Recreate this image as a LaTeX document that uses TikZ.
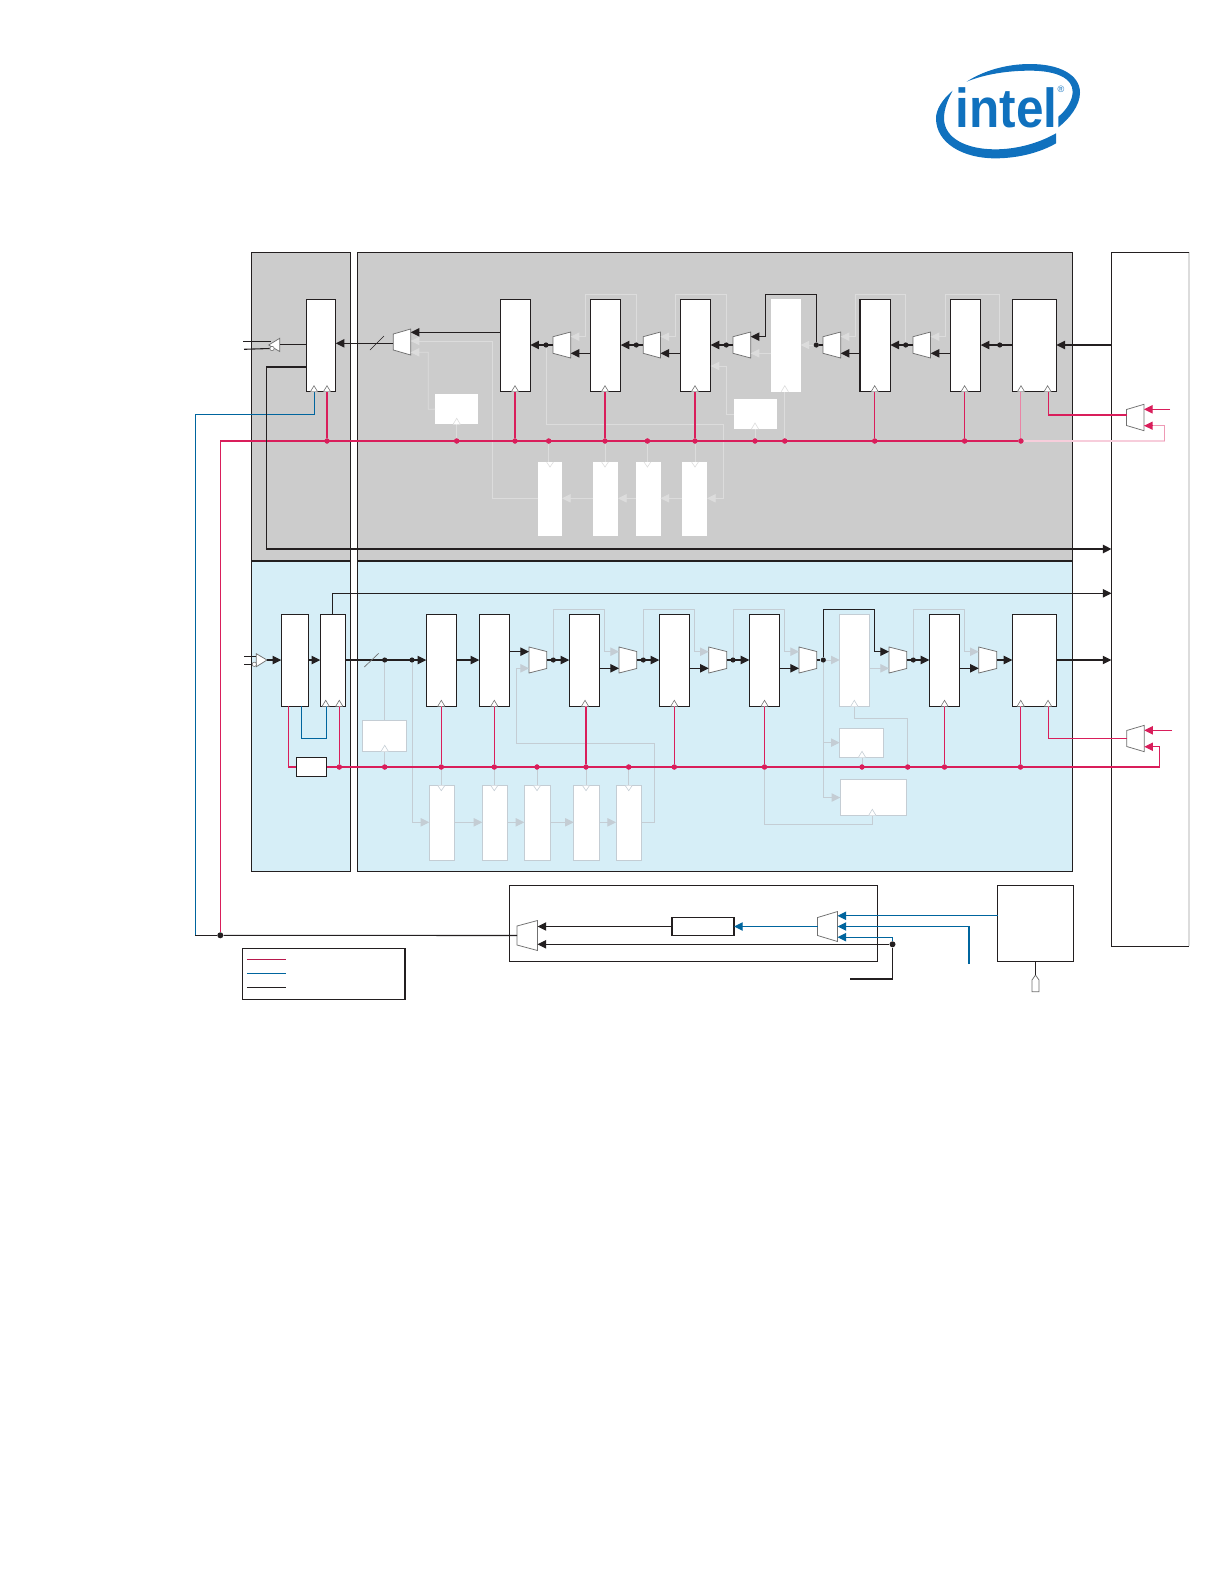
\documentclass[tikz,border=0pt]{standalone}
\usepackage{graphicx}
\usepackage{fontspec}
\setmainfont{Liberation Sans}
\usetikzlibrary{arrows.meta}
\definecolor{cblk}{HTML}{231F20}
\definecolor{cpnk}{HTML}{D91E5B}
\definecolor{cblu}{HTML}{00659E}
\definecolor{cgrey}{HTML}{CCCCCC}
\definecolor{cbluep}{HTML}{D6EEF7}
\definecolor{cfg}{HTML}{DCDCDC}
\definecolor{cfb}{HTML}{C4CDD4}
\definecolor{clogo}{HTML}{1071BE}
\definecolor{cmux}{HTML}{707070}
\tikzset{
  blk/.style={draw=cblk,line width=0.65pt},
  thk/.style={draw=cblk,line width=1.15pt},
  pnk/.style={draw=cpnk,line width=0.65pt},
  blu/.style={draw=cblu,line width=0.7pt},
  fgl/.style={draw=cfg,line width=0.5pt},
  fbl/.style={draw=cfb,line width=0.55pt},
  tip/.style={-{Triangle[length=5.2pt,width=5pt]}},
  panelg/.style={draw=cblk,fill=cgrey,line width=0.7pt,inner sep=0,outer sep=0},
  panelb/.style={draw=cblk,fill=cbluep,line width=0.7pt,inner sep=0,outer sep=0},
  regbox/.style={draw=cblk,fill=white,line width=0.7pt,inner sep=0,outer sep=0},
  wbox/.style={fill=white,inner sep=0,outer sep=0},
  wboxb/.style={draw=cfb,fill=white,line width=0.6pt,inner sep=0,outer sep=0},
  pdot/.style={circle,fill=cpnk,inner sep=0,minimum size=3.1pt},
  bdot/.style={circle,fill=cblk,inner sep=0,minimum size=3.1pt},
  muxs/.style={draw=cmux,fill=white,line width=0.45pt},
  clks/.style={draw=cmux,fill=white,line width=0.35pt},
  fclk/.style={draw=cfb,fill=white,line width=0.35pt},
}
% #1 style #2 name #3 x1 #4 y1 #5 x2 #6 y2
\newcommand\mybox[6]{\node[#1,minimum width={0.6pt*(#5-#3)},minimum height={0.6pt*(#6-#4)}] (#2) at ({(#3+#5)/2},{(#4+#6)/2}) {};}
% muxes: name x1 x2 yc narrow wide inputoffset
\newcommand\muxL[7]{\draw[muxs] (#2,{#4-#5}) -- (#3,{#4-#6}) -- (#3,{#4+#6}) -- (#2,{#4+#5}) -- cycle;
 \coordinate (#1-a) at (#3,{#4-#7}); \coordinate (#1-b) at (#3,{#4+#7}); \coordinate (#1-m) at (#3,#4); \coordinate (#1-o) at (#2,#4);}
\newcommand\muxR[7]{\draw[muxs] (#2,{#4-#6}) -- (#3,{#4-#5}) -- (#3,{#4+#5}) -- (#2,{#4+#6}) -- cycle;
 \coordinate (#1-a) at (#2,{#4-#7}); \coordinate (#1-b) at (#2,{#4+#7}); \coordinate (#1-o) at (#3,#4);}
% clock triangle: x y style
\newcommand\clkup[3]{\draw[#3] ({#1-3.6},#2) -- (#1,{#2-6}) -- ({#1+3.6},#2);}
\newcommand\clkdn[3]{\draw[#3] ({#1-3.4},#2) -- (#1,{#2+5}) -- ({#1+3.4},#2);}
\begin{document}
\begin{tikzpicture}[x=0.6pt,y=-0.6pt]
\useasboundingbox (0,0) rectangle (1224,1584);
% ---- logo
\begin{scope}[shift={(920,50)},x=0.2pt,y=-0.2pt]
\fill[clogo] (98,122) .. controls (65,150) and (48,180) .. (48,205) .. controls (48,280) and (130,325) .. (225,325) .. controls (300,325) and (365,305) .. (408,280) -- (408,250) .. controls (355,280) and (290,298) .. (225,298) .. controls (140,298) and (72,265) .. (72,205) .. controls (72,175) and (85,145) .. (98,122) -- cycle;
\fill[clogo] (140,95) .. controls (190,62) and (260,42) .. (330,42) .. controls (420,42) and (480,75) .. (480,128) .. controls (480,165) and (450,205) .. (415,232) -- (415,200) .. controls (440,180) and (458,150) .. (458,125) .. controls (458,85) and (410,62) .. (330,62) .. controls (265,62) and (195,72) .. (140,95) -- cycle;
\node[anchor=base,text=clogo,inner sep=0,font=\bfseries\fontsize{33}{33}\selectfont] (logotext) at (260,232) {\scalebox{0.9}[1]{intel}};
\node[text=clogo,inner sep=0,font=\fontsize{5.5}{6}\selectfont] (logomark) at (423,118) {®};
\end{scope}
% ---- helper rows
\coordinate (yt) at (0,345);
\coordinate (yu) at (0,353.3);
\coordinate (ya) at (0,336.7);
\coordinate (yl) at (0,294.3);
\coordinate (yc) at (0,498.3);
\coordinate (ym) at (0,441);
\coordinate (yb) at (0,660);
\coordinate (yv) at (0,668.3);
\coordinate (yw) at (0,651.7);
\coordinate (yh) at (0,609.7);
\coordinate (yd) at (0,822.3);
\coordinate (yn) at (0,767);
% ---- panels
\mybox{panelg}{pa}{251.3}{252.3}{350.5}{561}
\mybox{panelg}{pb}{357.3}{252.3}{1072.7}{561}
\mybox{panelb}{pc}{251.3}{561}{350.5}{871.3}
\mybox{panelb}{pd}{357.3}{561}{1072.7}{871.3}
\mybox{wbox}{rp}{1111.5}{252.3}{1189}{946.4}
\draw[cfg,line width=0.7pt] (rp.north east) -- (rp.south east);
\draw[blk] (rp.north east) -- (rp.north west) -- (rp.south west) -- (rp.south east);
\mybox{regbox}{bb}{509.3}{885.3}{877.5}{961.3}
\mybox{regbox}{bc}{997.5}{885.3}{1073.5}{961.3}
% ---- pink dots, top
\foreach \n/\x in {a/327,b/456.7,c/515,d/548.7,e/605,f/647.4,g/695,h/755,i/784.8,j/874.7,k/964.6,l/1020.9}
  \node[pdot] (tp\n) at (\x,441) {};
% ---- pink dots, bottom
\foreach \n/\x in {a/339.3,b/384.7,c/441.3,d/494.3,e/537,f/586,g/628.7,h/674.3,i/764.5,j/862,k/907.7,l/944.5,m/1020.5}
  \node[pdot] (bp\n) at (\x,767) {};
% ---- top faint boxes
\mybox{wbox}{wt1}{435}{394}{477.7}{424.3}
\mybox{wbox}{wt2}{733.9}{399}{777}{429}
\mybox{wbox}{fa}{538}{462}{562}{536}
\mybox{wbox}{fbx}{593}{462}{618}{536}
\mybox{wbox}{fc}{635.6}{462}{660.5}{536}
\mybox{wbox}{fd}{682}{462}{707}{536}
\mybox{wbox}{tf}{771}{299.3}{800.5}{391.7}
% ---- bottom faint boxes
\mybox{wboxb}{wb1}{362.3}{720.3}{406.3}{751.3}
\mybox{wboxb}{wb2}{839.7}{728}{883.7}{757.3}
\mybox{wboxb}{wb3}{840.3}{779.7}{906.7}{815.3}
\mybox{wboxb}{bf}{839.7}{614.3}{869.7}{706.3}
\mybox{wboxb}{ga}{429.3}{785.7}{454.3}{860.3}
\mybox{wboxb}{gb}{482.3}{785.7}{507.3}{860.3}
\mybox{wboxb}{gc}{524.3}{785.7}{550.3}{860.3}
\mybox{wboxb}{gd}{573.7}{785.7}{599.7}{860.3}
\mybox{wboxb}{ge}{616}{785.7}{641.3}{860.3}
% ---- registers, top
\foreach \n/\a/\b in {t0/306.3/335.7,t1/500.3/530.3,t2/590.3/620.7,t3/680.3/710.6,t4/860/890.4,t5/950.5/980.7,t6/1012.4/1056.4}
  {\mybox{regbox}{\n}{\a}{299.3}{\b}{391.7}}
% ---- registers, bottom
\foreach \n/\a/\b in {b0/281.3/308.7,b1/320.3/345.7,b2/426.3/456.7,b3/479.3/509.7,b4/569.3/599.7,b5/659.3/689.7,b6/749.3/779.7,b7/929.3/959.7,b8/1012.3/1056.7}
  {\mybox{regbox}{\n}{\a}{614.3}{\b}{706.3}}
\mybox{regbox}{pll}{296.3}{757.3}{326.7}{776.7}
\mybox{regbox}{dl}{672}{917.3}{734}{935.7}
\mybox{regbox}{lg}{242.7}{948.3}{405}{999.3}
% ---- muxes
\muxL{m0}{393.3}{410.7}{342}{8}{13}{8.3}
\muxL{m1}{553}{570.7}{345}{8.3}{13}{8.3}
\muxL{m2}{643.2}{660.5}{345}{8.3}{13}{8.3}
\muxL{m3}{733}{750.7}{345}{8.3}{13}{8.3}
\muxL{m4}{823}{840.7}{345}{8.3}{13}{8.3}
\muxL{m5}{913}{930.6}{345}{8.3}{13}{8.3}
\muxR{n1}{529}{546.7}{660}{8.5}{13}{8.3}
\muxR{n2}{619}{636.7}{660}{8.5}{13}{8.3}
\muxR{n3}{708.7}{726.7}{660}{8.5}{13}{8.3}
\muxR{n4}{799}{816.7}{660}{8.5}{13}{8.3}
\muxR{n5}{889}{906.7}{660}{8.5}{13}{8.3}
\muxR{n6}{978.7}{996.7}{660}{8.5}{13}{8.3}
\muxL{rm}{1126.5}{1144}{417.5}{8}{13.2}{8.2}
\muxL{rn}{1126.7}{1144.3}{738.5}{8}{13.2}{8.2}
\muxL{ma}{517}{537.5}{935.5}{9.5}{15}{9}
\muxL{mb}{817.6}{837.5}{926.5}{9}{15}{10.7}
% ---- black dots
\foreach \n/\x in {d0/546,d1/636.3,d2/726.3,d3/816.3,d4/905.7,d5/999.8}
  \node[bdot] (\n) at (\x,345) {};
\foreach \n/\x in {e1/384.7,e2/412,e3/553.3,e4/643.3,e5/733,e6/823.3,e7/913.3}
  \node[bdot] (\n) at (\x,660) {};
\node[bdot,minimum size=3.6pt] (jd) at (220.3,935.3) {};
\node[bdot,minimum size=3.6pt] (jb) at (892.5,944.3) {};
% ---- faint connectors, top
\draw[fgl,tip] (d1) -- (d1 |- yl) -- (585.7,294.3) -- (585.7,336.7) -- (m1-a);
\draw[fgl,tip] (d2) -- (d2 |- yl) -- (675.4,294.3) -- (675.4,336.7) -- (m2-a);
\draw[fgl,tip] (d4) -- (d4 |- yl) -- (855,294.3) -- (855,336.7) -- (m4-a);
\draw[fgl,tip] (d5) -- (d5 |- yl) -- (945,294.3) -- (945,336.7) -- (m5-a);
\draw[fgl,tip] (tf.west |- yu) -- (m3-b);
\draw[fgl,tip] (d3) -- (tf.east |- yt);
\draw[fgl,tip] (wt2.west) -- (726.3,414) -- (726.3,366) -- (t3.east |- 0,366);
\draw[fgl,tip] (wt1.west) -- (428.3,409.2) -- (428.3,352.3) -- (m0-b |- 0,352.3);
\draw[fgl,tip] (fa.west |- yc) -- (492.3,498.3) -- (492.3,341) -- (m0-m |- 0,341);
\draw[fgl,tip] (d0) -- (d0 |- 0,424.3) -- (723.6,424.3) -- (723.6,498.3) -- (fd.east |- yc);
\draw[fgl,tip] (fd.west |- yc) -- (fc.east |- yc);
\draw[fgl,tip] (fc.west |- yc) -- (fbx.east |- yc);
\draw[fgl,tip] (fbx.west |- yc) -- (fa.east |- yc);
\draw[fgl] (tpb) -- (tpb |- wt1.south);
\draw[fgl] (tph) -- (tph |- wt2.south);
\draw[fgl] (tpi) -- (tpi |- tf.south);
\draw[fgl] (tpd) -- (tpd |- fa.north);
\draw[fgl] (tpe) -- (tpe |- fbx.north);
\draw[fgl] (tpf) -- (tpf |- fc.north);
\draw[fgl] (tpg) -- (tpg |- fd.north);
\clkup{456.7}{424.3}{draw=cfg,fill=white,line width=0.35pt}
\clkup{755}{429}{draw=cfg,fill=white,line width=0.35pt}
\clkup{784.8}{391.7}{draw=cfg,fill=white,line width=0.35pt}
\clkdn{550}{462}{draw=cfg,fill=white,line width=0.35pt}
\clkdn{605}{462}{draw=cfg,fill=white,line width=0.35pt}
\clkdn{647.4}{462}{draw=cfg,fill=white,line width=0.35pt}
\clkdn{695}{462}{draw=cfg,fill=white,line width=0.35pt}
% ---- faint connectors, bottom
\draw[fbl,tip] (e3) -- (e3 |- yh) -- (604.3,609.7) -- (604.3,651.7) -- (n2-a);
\draw[fbl,tip] (e4) -- (e4 |- yh) -- (694.3,609.7) -- (694.3,651.7) -- (n3-a);
\draw[fbl,tip] (e5) -- (e5 |- yh) -- (784.3,609.7) -- (784.3,651.7) -- (n4-a);
\draw[fbl,tip] (e7) -- (e7 |- yh) -- (964.3,609.7) -- (964.3,651.7) -- (n6-a);
\draw[fbl,tip] (ge.east |- yd) -- (654.3,822.3) -- (654.3,743) -- (516.7,743) -- (516.7,668.3) -- (n1-b);
\draw[fbl,tip] (e6) -- (bf.west |- yb);
\draw[fbl,tip] (bf.east |- yv) -- (n5-b);
\draw[fbl] (e1) -- (e1 |- wb1.north);
\draw[fbl] (bpb) -- (bpb |- wb1.south);
\draw[fbl,tip] (e2) -- (e2 |- yd) -- (ga.west |- yd);
\draw[fbl,tip] (ga.east |- yd) -- (gb.west |- yd);
\draw[fbl,tip] (gb.east |- yd) -- (gc.west |- yd);
\draw[fbl,tip] (gc.east |- yd) -- (gd.west |- yd);
\draw[fbl,tip] (gd.east |- yd) -- (ge.west |- yd);
\draw[fbl,tip] (e6) -- (e6 |- wb3.west) -- (wb3.west);
\draw[fbl,tip] (e6 |- wb2.west) -- (wb2.west);
\draw[fbl] (bpj) -- (bpj |- wb2.south);
\draw[fbl] (872.3,815.3) -- (872.3,824.3) -- (bpi |- 0,824.3) -- (bpi);
\draw[fbl] (854.3,706.3) -- (854.3,718.3) -- (bpk |- 0,718.3) -- (bpk);
\draw[fbl] (bpc) -- (bpc |- ga.north);
\draw[fbl] (bpd) -- (bpd |- gb.north);
\draw[fbl] (bpe) -- (bpe |- gc.north);
\draw[fbl] (bpf) -- (bpf |- gd.north);
\draw[fbl] (bpg) -- (bpg |- ge.north);
\clkup{384.7}{751.3}{fclk}
\clkup{862}{757.3}{fclk}
\clkup{872.3}{815.3}{fclk}
\clkup{854.3}{706.3}{fclk}
\clkdn{441.3}{785.7}{fclk}
\clkdn{494.3}{785.7}{fclk}
\clkdn{537}{785.7}{fclk}
\clkdn{586}{785.7}{fclk}
\clkdn{628.7}{785.7}{fclk}
% ---- pink, top
\draw[draw=cpnk!22!white,line width=0.7pt] (tpl) -- (1164.5,441);
\draw[draw=cpnk!45!white,line width=0.6pt] (1164.5,441) -- (1164.5,425.7);
\draw[draw=cpnk!45!white,line width=0.6pt] (1164.5,425.7) -- (rm-b);
\draw[draw=cpnk,line width=0pt,tip] (1150,425.7) -- (rm-b);
\draw[pnk] (220.3,441) -- (tpl);
\draw[pnk] (jd) -- (220.3,441);
\draw[pnk] (tpa) -- (tpa |- t0.south);
\draw[pnk] (tpc) -- (tpc |- t1.south);
\draw[pnk] (tpe) -- (tpe |- t2.south);
\draw[pnk] (tpg) -- (tpg |- t3.south);
\draw[pnk] (tpj) -- (tpj |- t4.south);
\draw[pnk] (tpk) -- (tpk |- t5.south);
\draw[draw=cpnk!55!white,line width=0.7pt] (tpl) -- (tpl |- t6.south);
\draw[pnk] (1048.4,391.7) -- (1048.4,415) -- (rm-o |- 0,415);
\coordinate (ri) at (1170,409.3);
\draw[pnk,tip] (ri) -- (rm-a);
\foreach \n/\x in {a/327,b/456.7,c/515,d/548.7,e/605,f/647.4,g/695,h/755,i/784.8,j/874.7,k/964.6,l/1020.9}
  \node[pdot] at (tp\n) {};
% ---- pink, bottom
\draw[pnk] (288.3,706.3) -- (288.3,767) -- (pll.west);
\draw[pnk,tip] (pll.east) -- (1159.3,767) -- (1159.3,746.7) -- (rn-b);
\draw[pnk] (bpa) -- (bpa |- b1.south);
\draw[pnk] (bpc) -- (bpc |- b2.south);
\draw[pnk] (bpd) -- (bpd |- b3.south);
\draw[pnk] (bpf) -- (bpf |- b4.south);
\draw[pnk] (bph) -- (bph |- b5.south);
\draw[pnk] (bpi) -- (bpi |- b6.south);
\draw[pnk] (bpl) -- (bpl |- b7.south);
\draw[pnk] (bpm) -- (bpm |- b8.south);
\draw[pnk] (1048.3,706.3) -- (1048.3,738.5) -- (rn-o);
\coordinate (rj) at (1172,730.3);
\draw[pnk,tip] (rj) -- (rn-a);
\foreach \n/\x in {a/339.3,b/384.7,c/441.3,d/494.3,e/537,f/586,g/628.7,h/674.3,i/764.5,j/862,k/907.7,l/944.5,m/1020.5}
  \node[pdot] at (bp\n) {};
% ---- blue
\draw[blu] (314.7,391.7) -- (314.7,414.3) -- (195.3,414.3) -- (195.3,935.3);
\draw[blu] (301.3,706.3) -- (301.3,738.3) -- (326.7,738.3) -- (326.7,706.3);
\draw[blu,tip] (bc.west |- mb-a) -- (mb-a);
\draw[blu,tip] (969,964) -- (969,926.5) -- (mb-m);
\draw[blu,tip] (jb) -- (jb |- mb-b) -- (mb-b);
\draw[blu,tip] (mb-o) -- (dl.east);
% ---- clocks (on registers)
\foreach \x/\y in {314/391.7,327/391.7,515/391.7,605/391.7,695/391.7,874.7/391.7,964.6/391.7,1021/391.7,1047.6/391.7,325.7/706.3,339.3/706.3,441.3/706.3,494.3/706.3,585/706.3,674.3/706.3,764.5/706.3,944.5/706.3,1020.7/706.3,1048/706.3}
  {\clkup{\x}{\y}{clks}}
% ---- black, top
\draw[blk,tip] (rp.west |- yt) -- (t6.east |- yt);
\draw[blk,tip] (t6.west |- yt) -- (t5.east |- yt);
\draw[blk,tip] (t5.west |- yu) -- (m5-b);
\draw[blk,tip] (m5-o) -- (t4.east |- yt);
\draw[blk,tip] (t4.west |- yu) -- (m4-b);
\draw[blk] (m4-o) -- (d3);
\draw[blk,tip] (d3) -- (d3 |- yl) -- (765.3,294.3) -- (765.3,336.7) -- (m3-a);
\draw[blk,tip] (m3-o) -- (t3.east |- yt);
\draw[blk,tip] (t3.west |- yu) -- (m2-b);
\draw[blk,tip] (m2-o) -- (t2.east |- yt);
\draw[blk,tip] (t2.west |- yu) -- (m1-b);
\draw[blk,tip] (m1-o) -- (t1.east |- yt);
\draw[blk,tip] (t1.west |- 0,332.3) -- (m0-a |- 0,332.3);
\draw[blk,tip] (m0-o |- 0,343.3) -- (t0.east |- 0,343.3);
\coordinate (sa) at (370,350); \coordinate (sb) at (384,336);
\draw[draw=cblk,line width=0.4pt] (sa) -- (sb);
\draw[blk] (t0.west |- 0,367) -- (266.3,367) -- (266.3,549);
\draw[thk,tip] (265.9,549) -- (rp.west |- 0,549);
% output buffer
\draw[muxs,line width=0.45pt] (268.7,345) -- (279.7,338.3) -- (279.7,351.5) -- cycle;
\node[circle,draw=cmux,fill=white,inner sep=0,minimum size=2.6pt,line width=0.35pt] (obb) at (272,348.5) {};
\draw[blk] (t0.west |- 0,344.3) -- (279.7,344.3);
\coordinate (oa) at (243,341.3); \coordinate (ob) at (244,349.3);
\draw[blk] (oa) -- (270.5,341.3);
\draw[blk] (ob) -- (obb.west);
% ---- black, bottom
\draw[muxs] (256.3,653.7) -- (267,660) -- (256.3,666.7) -- cycle;
\node[circle,draw=cmux,fill=white,inner sep=0,minimum size=2.6pt,line width=0.35pt] (ibb) at (254.3,664.3) {};
\coordinate (ia) at (244,656.3); \coordinate (ib) at (244,664.3);
\draw[blk] (ia) -- (256.3,656.3);
\draw[blk] (ib) -- (ibb.west);
\draw[blk,tip] (267,660) -- (b0.west |- yb);
\draw[blk,tip] (b0.east |- yb) -- (b1.west |- yb);
\draw[blk,tip] (b1.east |- yb) -- (b2.west |- yb);
\coordinate (sc) at (364.3,667); \coordinate (sd) at (378.7,653.3);
\draw[draw=cmux,line width=0.4pt] (sc) -- (sd);
\draw[blk,tip] (b2.east |- yb) -- (b3.west |- yb);
\draw[blk,tip] (b3.east |- yw) -- (n1-a);
\draw[blk,tip] (n1-o) -- (b4.west |- yb);
\draw[blk,tip] (b4.east |- yv) -- (n2-b);
\draw[blk,tip] (n2-o) -- (b5.west |- yb);
\draw[blk,tip] (b5.east |- yv) -- (n3-b);
\draw[blk,tip] (n3-o) -- (b6.west |- yb);
\draw[blk,tip] (b6.east |- yv) -- (n4-b);
\draw[blk] (n4-o) -- (e6);
\draw[blk,tip] (e6) -- (e6 |- yh) -- (874.3,609.7) -- (874.3,651.7) -- (n5-a);
\draw[blk,tip] (n5-o) -- (b7.west |- yb);
\draw[blk,tip] (b7.east |- yv) -- (n6-b);
\draw[blk,tip] (n6-o) -- (b8.west |- yb);
\draw[blk,tip] (b8.east |- yb) -- (rp.west |- yb);
\draw[blk,tip] (332.3,614.3) -- (332.3,593.3) -- (rp.west |- 0,593.3);
% ---- black, lower section
\draw[blk] (ma-o) -- (jd);
\draw[blk] (jd) -- (195.3,935.3);
\draw[blk,tip] (dl.west) -- (ma-a);
\draw[blk,tip] (jb) -- (ma-b |- jb);
\coordinate (je) at (850,979);
\draw[blk] (jb) -- (jb |- je) -- (je);
\draw[draw=cmux,fill=white,line width=0.45pt] (1032,991.7) -- (1032,980) -- (1035.5,975) -- (1039,980) -- (1039,991.7) -- cycle;
\draw[blk] (bc.south -| 1035.5,0) -- (1035.5,975);
% ---- legend
\coordinate (la) at (246.8,959.3); \coordinate (lb) at (286,959.3);
\coordinate (lc) at (246.8,973.3); \coordinate (ld) at (286,973.3);
\coordinate (le) at (246.8,987.3); \coordinate (lf) at (286,987.3);
\draw[draw=cpnk!85!black,line width=0.65pt] (la) -- (lb);
\draw[draw=cblu,line width=0.65pt] (lc) -- (ld);
\draw[blk] (le) -- (lf);
\end{tikzpicture}
\end{document}
